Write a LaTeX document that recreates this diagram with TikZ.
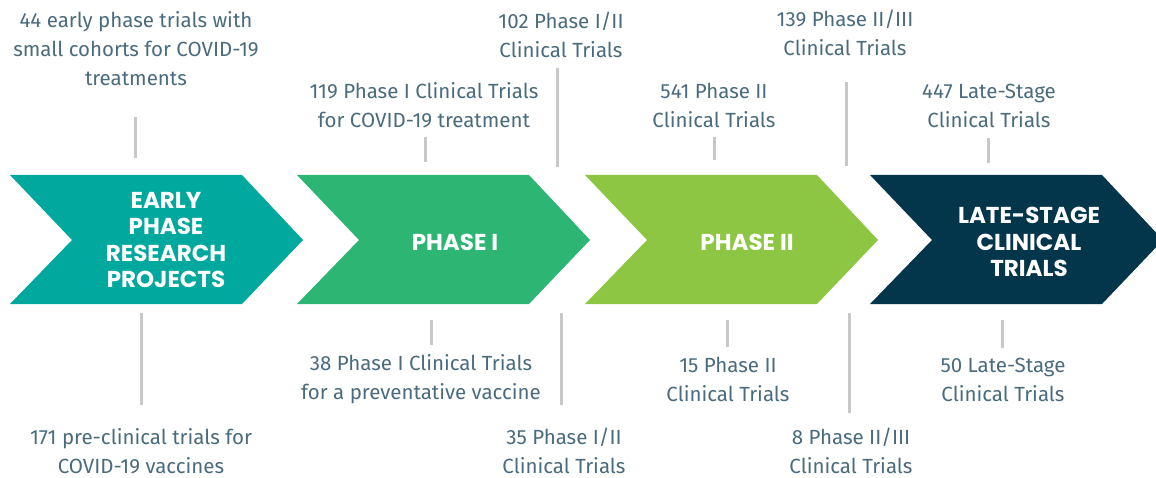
\documentclass[tikz,border=0pt]{standalone}
\usepackage{fontspec}
\setmainfont{Fira Sans}
\newfontfamily\chevfont{Poppins}
\usetikzlibrary{calc,positioning}
\definecolor{earlyteal}{RGB}{0,168,157}
\definecolor{phaseone}{RGB}{45,181,115}
\definecolor{phasetwo}{RGB}{141,198,67}
\definecolor{latenavy}{RGB}{3,53,75}
\definecolor{lblgray}{RGB}{74,107,125}
\definecolor{conngray}{RGB}{200,200,200}
\begin{document}
\begin{tikzpicture}[x = 1pt, y = -1pt,
  lbl/.style={font=\fontsize{20.5}{29}\selectfont, text = lblgray, align = center, inner sep = 0pt},
  chev/.style={font=\chevfont\bfseries\fontsize{23}{26.5}\selectfont, text = white, align = center, inner sep = 0pt},
  conn/.style={draw = conngray, line width = 3pt}]
\useasboundingbox (0,0) rectangle (1156,478);
\clip (0,0) rectangle (1156,478);
\foreach \x/\c in {10/earlyteal, 297/phaseone, 585/phasetwo, 870/latenavy}{\fill[\c] (\x,175) -- ++(232,0) -- ++(61,65) -- ++(-61,64) -- ++(-232,0) -- ++(62,-64) -- cycle;}
\node[chev] (early) at (166,240) {EARLY\\PHASE\\RESEARCH\\PROJECTS};
\node[chev] (ph1) at (455,242) {PHASE I};
\node[chev] (ph2) at (747,242) {PHASE II};
\node[chev] (late) at (1029,242) {LATE-STAGE\\CLINICAL\\TRIALS};
\node[lbl] (t1) at (136,49) {44 early phase trials with\\small cohorts for COVID-19\\treatments};
\node[lbl] (t2) at (424,105.5) {119 Phase I Clinical Trials\\for COVID-19 treatment};
\node[lbl] (t3) at (561,34.5) {102 Phase I/II\\Clinical Trials};
\node[lbl] (t4) at (714,105.5) {541 Phase II\\Clinical Trials};
\node[lbl] (t5) at (845,32.5) {139 Phase II/III\\Clinical Trials};
\node[lbl] (t6) at (989,105.5) {447 Late-Stage\\Clinical Trials};
\node[lbl] (b1) at (141,451) {171 pre-clinical trials for\\COVID-19 vaccines};
\node[lbl] (b2) at (421,379.5) {38 Phase I Clinical Trials\\for a preventative vaccine};
\node[lbl] (b3) at (564,451) {35 Phase I/II\\Clinical Trials};
\node[lbl] (b4) at (728,379.5) {15 Phase II\\Clinical Trials};
\node[lbl] (b5) at (851,451) {8 Phase II/III\\Clinical Trials};
\node[lbl] (b6) at (1003,379.5) {50 Late-Stage\\Clinical Trials};
\foreach \n/\x/\a/\b in {t1/135/117/158, t2/425/137/162, t3/557/68/167, t4/714/137/160, t5/846/82/166, t6/988/138/163, b1/141/313/405, b2/431/320/345, b3/561/313/405, b4/727/320/347, b5/849/313/413, b6/1002/320/348}{
  \coordinate (\n top) at (\x,\a);
  \coordinate (\n bot) at (\x,\b);
  \draw[conn] (\n top) -- (\n bot);}
\end{tikzpicture}
\end{document}
